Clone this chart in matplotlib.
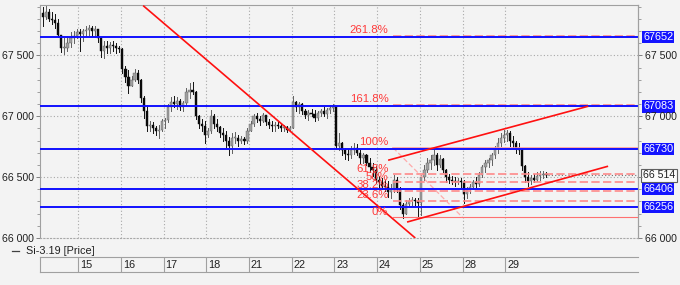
import matplotlib
matplotlib.use('Agg')
import matplotlib.pyplot as plt
from matplotlib.patches import Rectangle
from matplotlib.lines import Line2D
from matplotlib.transforms import blended_transform_factory
from matplotlib.ticker import MultipleLocator, FixedLocator, FixedFormatter

plt.rcParams['font.family'] = ['Liberation Sans', 'DejaVu Sans']
FS = 7.6

# ---------------- data ----------------
days = ['14', '15', '16', '17', '18', '21', '22', '23', '24', '25', '28', '29']
bars_per_day = [12, 14, 14, 14, 14, 14, 14, 14, 14, 14, 14, 14]
first_open = 67850

highs = [
    67900, 67910, 67880, 67860, 67840, 67800, 67670, 67640, 67660, 67690, 67700, 67720,
    67720, 67720, 67740, 67750, 67745, 67740, 67720, 67650, 67620, 67620, 67610, 67620, 67600, 67580,
    67560, 67410, 67380, 67330, 67390, 67380, 67310, 67170, 67090, 66960, 66950, 66920, 66930, 66980,
    66990, 67100, 67160, 67170, 67160, 67140, 67130, 67230, 67270, 67280, 67210, 67010, 66980, 66960,
    66900, 67050, 67020, 66980, 66920, 66900, 66880, 66830, 66860, 66870, 66850, 66840, 66830, 66900,
    66960, 67020, 67030, 67000, 67030, 67010, 66980, 66960, 66950, 66960, 66940, 66930, 66920, 66920,
    67170, 67130, 67120, 67110, 67060, 67050, 67060, 67050, 67040, 67060, 67080, 67070, 67090, 67100,
    67080, 66860, 66790, 66740, 66730, 66760, 66780, 66770, 66720, 66700, 66690, 66660, 66620, 66590,
    66510, 66490, 66480, 66470, 66440, 66520, 66500, 66420, 66290, 66310, 66330, 66340, 66330, 66330,
    66520, 66600, 66660, 66680, 66750, 66700, 66680, 66660, 66570, 66530, 66510, 66500, 66490, 66490,
    66480, 66420, 66440, 66480, 66500, 66540, 66600, 66640, 66660, 66700, 66760, 66820, 66860, 66890,
    66890, 66880, 66840, 66800, 66780, 66740, 66600, 66540, 66520, 66530, 66540, 66550, 66550, 66540,
]
lows = [
    67740, 67800, 67780, 67760, 67730, 67650, 67530, 67510, 67540, 67570, 67600, 67640,
    67540, 67620, 67660, 67670, 67660, 67650, 67610, 67490, 67480, 67520, 67520, 67540, 67520, 67530,
    67360, 67280, 67190, 67250, 67290, 67270, 67120, 66990, 66880, 66880, 66860, 66850, 66820, 66880,
    66900, 66950, 67040, 67080, 67060, 67050, 67040, 67100, 67150, 67180, 66980, 66900, 66880, 66780,
    66830, 66860, 66900, 66880, 66830, 66800, 66750, 66680, 66700, 66780, 66760, 66780, 66770, 66780,
    66880, 66920, 66950, 66930, 66950, 66930, 66900, 66880, 66880, 66900, 66880, 66880, 66870, 66880,
    66900, 67040, 67030, 67020, 66990, 66970, 67000, 66960, 66970, 67000, 67000, 66990, 67030, 67040,
    66730, 66720, 66680, 66650, 66640, 66660, 66690, 66680, 66620, 66620, 66600, 66540, 66510, 66450,
    66420, 66400, 66390, 66340, 66330, 66380, 66380, 66240, 66165, 66200, 66260, 66270, 66270, 66170,
    66190, 66480, 66540, 66570, 66600, 66560, 66580, 66540, 66460, 66450, 66440, 66430, 66440, 66420,
    66290, 66330, 66370, 66400, 66420, 66430, 66500, 66540, 66580, 66600, 66660, 66700, 66760, 66790,
    66800, 66760, 66740, 66700, 66690, 66560, 66460, 66430, 66440, 66460, 66470, 66480, 66490, 66500,
]
closes = [
    67820, 67860, 67800, 67790, 67770, 67670, 67560, 67560, 67600, 67640, 67660, 67690,
    67680, 67700, 67710, 67730, 67700, 67720, 67640, 67540, 67580, 67560, 67590, 67580, 67560, 67550,
    67390, 67320, 67250, 67300, 67360, 67300, 67150, 67040, 66920, 66930, 66900, 66880, 66890, 66960,
    66970, 67080, 67120, 67100, 67130, 67080, 67110, 67200, 67220, 67200, 67000, 66940, 66920, 66850,
    66880, 67000, 66940, 66910, 66860, 66850, 66800, 66760, 66820, 66820, 66800, 66810, 66800, 66880,
    66940, 67000, 66980, 66960, 67010, 66950, 66930, 66920, 66930, 66920, 66900, 66910, 66890, 66900,
    67120, 67080, 67100, 67040, 67010, 67030, 67020, 66990, 67030, 67040, 67020, 67050, 67070, 67080,
    66760, 66780, 66720, 66690, 66680, 66720, 66740, 66700, 66660, 66680, 66620, 66580, 66560, 66480,
    66460, 66430, 66420, 66380, 66400, 66480, 66400, 66270, 66200, 66280, 66300, 66310, 66300, 66290,
    66500, 66560, 66620, 66640, 66680, 66600, 66650, 66560, 66500, 66480, 66470, 66460, 66470, 66460,
    66360, 66400, 66420, 66460, 66440, 66520, 66580, 66620, 66640, 66680, 66740, 66780, 66820, 66850,
    66860, 66800, 66780, 66740, 66720, 66590, 66500, 66470, 66490, 66480, 66510, 66520, 66530, 66514,
]

yticks = [66000, 66500, 67000, 67500]
ytick_labels = ['66 000', '66 500', '67 000', '67 500']
right_tick_labels = ['66 000', '', '67 000', '67 500']
level_prices = [67652, 67083, 66730, 66406, 66256]
level_labels = ['67652', '67083', '66730', '66406', '66256']
fib_low, fib_high = 66172, 66742
fib_ratios = [0.0, 0.236, 0.382, 0.5, 0.618, 1.0, 1.618, 2.618]
fib_labels = ['0%', '23.6%', '38.2%', '50%', '61.8%', '100%', '161.8%', '261.8%']
fib_x0 = 115.7
fib_label_x = 114.2
fib_diag_x = [115.7, 138.4]
last_price = 66514
last_label = '66 514'
trend_down_x, trend_down_y = [33.8, 123.0], [67910, 66000]
chan_top_x, chan_top_y = [114.1, 179.7], [66639, 67083]
chan_bot_x, chan_bot_y = [120.3, 186.2], [66131, 66590]
legend_text = 'Si-3.19 [Price]'
x_max = 196
y_min, y_max = 66000, 67915

# ---------------- figure ----------------
W, H = 680, 285
BG = '#f3f3f3'
fig = plt.figure(figsize=(W / 100, H / 100), dpi=100, facecolor=BG)
L, R, T, B = 40, 638, 5, 238
ax = fig.add_axes([L / W, 1 - B / H, (R - L) / W, (B - T) / H], facecolor=BG)
ax.set_xlim(0, x_max)
ax.set_ylim(y_min, y_max)

# day boundaries
boundaries = []
pos = 0.5
for n in bars_per_day[:-1]:
    pos += n
    boundaries.append(pos)

grid_kw = dict(color='#a8a8a8', lw=0.8, linestyle=(0, (1, 2)), zorder=0)
for b in boundaries:
    ax.axvline(b, **grid_kw)
for yv in yticks[1:]:
    ax.axhline(yv, **grid_kw)

# candles
xs = list(range(1, len(closes) + 1))
opens = [first_open] + closes[:-1]
for x, o, h, l, c in zip(xs, opens, highs, lows, closes):
    hi = max(h, o, c)
    lo = min(l, o, c)
    up = c >= o
    ax.plot([x, x], [lo, hi], color='#606060' if up else '#101010', lw=0.7, zorder=2)
    body_lo, body_hi = min(o, c), max(o, c)
    if body_hi - body_lo < 6:
        body_hi = body_lo + 6
    ax.add_patch(Rectangle((x - 0.36, body_lo), 0.72, body_hi - body_lo,
                           facecolor='#a0a0a0' if up else '#0a0a0a',
                           edgecolor='#606060' if up else '#0a0a0a', lw=0.3, zorder=3))

# fibonacci levels
rng = fib_high - fib_low
for r, lab in zip(fib_ratios, fib_labels):
    yv = fib_low + r * rng
    if r == 1.0:
        ax.plot([fib_x0, x_max], [yv, yv], color='#ff9c9c', lw=1.2, zorder=4)
    elif r == 0.0:
        ax.plot([fib_x0, x_max], [yv, yv], color='#ff7070', lw=0.8, zorder=4)
    else:
        ax.plot([fib_x0, x_max], [yv, yv], color='#ff8a8a', lw=1.2,
                linestyle=(0, (5, 2)), zorder=4)
    ax.text(fib_label_x, yv + 20, lab, ha='right', va='baseline', fontsize=8.2,
            color='#ff3a3a', zorder=7)
ax.plot(fib_diag_x, [fib_high, fib_low], color='#ffaaaa', lw=0.9,
        linestyle=(0, (4, 2)), zorder=4)

# blue horizontal levels
for p in level_prices:
    ax.axhline(p, color='#1010ff', lw=1.4, zorder=5)

# last price dotted line
ax.plot([xs[-1] + 0.5, x_max], [last_price, last_price], color='#707070', lw=0.8,
        linestyle=(0, (1, 2)), zorder=5)

# red trend lines
for tx, ty in [(trend_down_x, trend_down_y), (chan_top_x, chan_top_y), (chan_bot_x, chan_bot_y)]:
    ax.plot(tx, ty, color='#ff1010', lw=1.2, zorder=6, solid_capstyle='butt')

# spines / ticks
for s in ['top', 'left', 'right']:
    ax.spines[s].set_color('#a0a0a0')
    ax.spines[s].set_linewidth(0.8)
ax.spines['bottom'].set_color('#a8a8a8')
ax.spines['bottom'].set_linestyle((0, (1, 2)))
ax.spines['bottom'].set_linewidth(0.8)
ax.set_xticks([])
ax.yaxis.set_major_locator(FixedLocator(yticks))
ax.yaxis.set_major_formatter(FixedFormatter(ytick_labels))
ax.yaxis.set_minor_locator(MultipleLocator(100))
ax.tick_params(axis='y', which='major', length=3, width=0.7, color='#808080',
               labelsize=FS, pad=1.5, labelcolor='#202020', direction='out')
ax.tick_params(axis='y', which='minor', length=2, width=0.6, color='#909090', direction='out')

axr = ax.twinx()
axr.set_ylim(y_min, y_max)
axr.set_facecolor('none')
for s in ['top', 'left', 'bottom']:
    axr.spines[s].set_visible(False)
axr.spines['right'].set_color('#a0a0a0')
axr.spines['right'].set_linewidth(0.8)
axr.yaxis.set_major_locator(FixedLocator(yticks))
axr.yaxis.set_major_formatter(FixedFormatter(right_tick_labels))
axr.yaxis.set_minor_locator(MultipleLocator(100))
axr.tick_params(axis='y', which='major', length=3, width=0.7, color='#808080',
                labelsize=FS, pad=2, labelcolor='#202020', direction='out')
axr.tick_params(axis='y', which='minor', length=2, width=0.6, color='#909090', direction='out')

# price tags
trans = blended_transform_factory(ax.transAxes, ax.transData)
tag_x = 1 + 5 / (R - L)
for p, lab in zip(level_prices, level_labels):
    ax.text(tag_x, p, lab, transform=trans, ha='left', va='center', fontsize=7.8,
            color='white', clip_on=False, zorder=10,
            bbox=dict(boxstyle='square,pad=0.12', facecolor='#1414ff', edgecolor='none'))
ax.text(tag_x, last_price, last_label, transform=trans, ha='left', va='center',
        fontsize=FS, color='#202020', clip_on=False, zorder=10,
        bbox=dict(boxstyle='square,pad=0.18', facecolor='#fbfbfb', edgecolor='#606060', lw=0.8))

# date strip
axd = fig.add_axes([L / W, 1 - 272 / H, (R - L) / W, 15 / H], facecolor='none')
axd.set_xlim(0, x_max)
axd.set_ylim(0, 1)
axd.set_xticks([])
axd.set_yticks([])
for s in ['top', 'bottom', 'left']:
    axd.spines[s].set_color('#a0a0a0')
    axd.spines[s].set_linewidth(0.8)
axd.spines['right'].set_visible(False)
for b, lab in zip(boundaries, days[1:]):
    axd.axvline(b, color='#a0a0a0', lw=0.8)
    axd.text(b + 0.6, 0.45, lab, ha='left', va='center', fontsize=7.8, color='#202020')

# legend
fig.add_artist(Line2D([12 / W, 19 / W], [1 - 250.5 / H, 1 - 250.5 / H],
                      color='#404040', lw=0.9, transform=fig.transFigure))
fig.text(26 / W, 1 - 250.5 / H, legend_text, ha='left', va='center', fontsize=7.8,
         color='#202020')

fig.savefig('out.png', dpi=100, facecolor=BG)
